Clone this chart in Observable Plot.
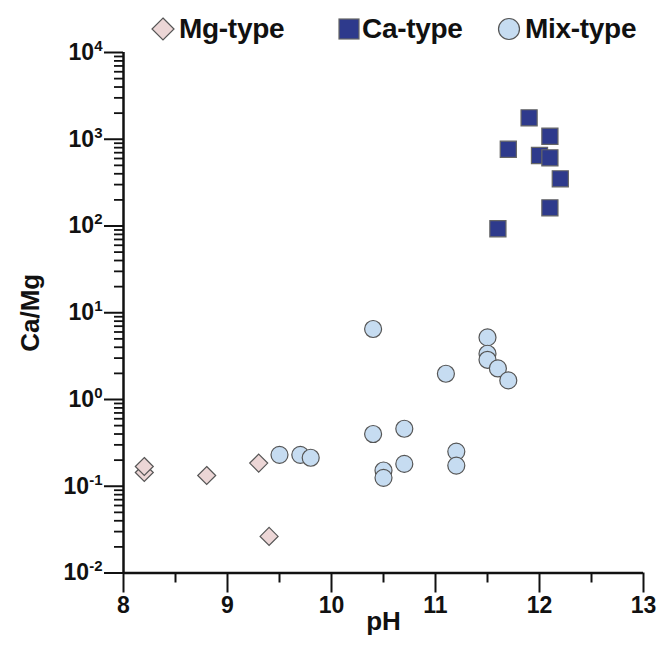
<!DOCTYPE html>
<html><head><meta charset="utf-8">
<script src="https://cdn.jsdelivr.net/npm/d3@7"></script>
<script src="https://cdn.jsdelivr.net/npm/@observablehq/plot@0.6"></script>
<style>
body{margin:0;background:#fff;font-family:"Liberation Sans",Arial,sans-serif;}
#wrap{position:relative;width:658px;height:655px;}
#legend{position:absolute;left:0;top:0;width:658px;height:50px;z-index:2;}
#chart{position:absolute;left:0;top:0;}
.item{position:absolute;top:13px;height:32px;line-height:32px;font-weight:bold;font-size:28px;color:#111;white-space:nowrap;letter-spacing:-0.3px;}
</style></head>
<body><div id="wrap"><div id="chart"></div><div id="legend"></div></div>
<script>
// Data
const mgPH = [8.2, 8.2, 8.8, 9.3, 9.4];
const mgRatio = [0.144, 0.169, 0.133, 0.185, 0.0264];
const caPH = [11.6, 11.9, 12.1, 11.7, 12.0, 12.1, 12.2, 12.1];
const caRatio = [93, 1766, 1084, 767, 650, 611, 350, 162];
const mixPH = [10.4, 11.5, 11.5, 11.5, 11.6, 11.7, 11.1, 10.4, 10.7, 10.7, 10.5, 10.5, 11.2, 11.2, 9.5, 9.7, 9.8];
const mixRatio = [6.5, 5.2, 3.37, 2.87, 2.28, 1.66, 1.98, 0.40, 0.46, 0.181, 0.152, 0.125, 0.251, 0.173, 0.230, 0.230, 0.213];
const seriesNames = ["Mg-type", "Ca-type", "Mix-type"];
const xMajor = [8, 9, 10, 11, 12, 13];
const xMinor = [8.5, 9.5, 10.5, 11.5, 12.5];
const yMajor = [0.01, 0.1, 1, 10, 100, 1000, 10000];

const colMg = "#ecd6d6", colCa = "#2e3a8c", colMix = "#c6dcf1", colStroke = "#555";

const yMinor = [];
for (const m of yMajor.slice(0, -1)) for (let k = 2; k <= 9; k++) yMinor.push(m * k);

const toRows = (xs, ys) => xs.map((x, i) => ({pH: x, ratio: ys[i]}));
const mg = toRows(mgPH, mgRatio), ca = toRows(caPH, caRatio), mix = toRows(mixPH, mixRatio);

const font = "Liberation Sans, Arial, sans-serif";
const chart = Plot.plot({
  width: 658, height: 655,
  marginTop: 52, marginLeft: 123, marginRight: 15, marginBottom: 82.5,
  style: {fontFamily: font, fontWeight: "bold", fontSize: "23px", color: "#111", background: "#fff"},
  x: {domain: [8, 13]},
  y: {type: "log", domain: [0.01, 10000]},
  marks: [
    Plot.axisX({ticks: xMajor, tickSize: 20, strokeWidth: 2, tickPadding: 4, label: null, tickFormat: d => String(d)}),
    Plot.axisX({ticks: xMinor, tickSize: 10, strokeWidth: 2, tickFormat: () => "", label: null}),
    Plot.axisY({ticks: yMajor, tickSize: 19, strokeWidth: 2, tickPadding: 2, label: null,
      tickFormat: d => String(Math.round(Math.log10(d)))}),
    Plot.axisY({ticks: yMinor, tickSize: 9, strokeWidth: 1.8, tickFormat: () => "", label: null}),
    Plot.ruleX([8], {stroke: "#111", strokeWidth: 2.5}),
    Plot.ruleY([0.01], {stroke: "#111", strokeWidth: 2.5}),
    Plot.text(["pH"], {frameAnchor: "bottom", dy: 57, fontSize: 26, fontWeight: "bold", fill: "#111"}),
    Plot.text(["Ca/Mg"], {frameAnchor: "left", textAnchor: "middle", lineAnchor: "middle", dx: -93, rotate: -90, fontSize: 26, fontWeight: "bold", fill: "#111"}),
    Plot.dot(mg, {x: "pH", y: "ratio", symbol: "diamond2", r: 8.1, fill: colMg, stroke: colStroke, strokeWidth: 1.2}),
    Plot.dot(mix, {x: "pH", y: "ratio", symbol: "circle", r: 8.5, fill: colMix, stroke: colStroke, strokeWidth: 1.2}),
    Plot.dot(ca, {x: "pH", y: "ratio", symbol: "square", r: 9.1, fill: colCa, stroke: "#666", strokeWidth: 1.2})
  ]
});

// drop empty minor-tick labels, then superscript exponents on the decade labels
d3.select(chart).selectAll('g[aria-label="y-axis tick label"] text, g[aria-label="x-axis tick label"] text').each(function() {
  if (this.textContent === "") this.remove();
});
d3.select(chart).selectAll('g[aria-label="y-axis tick label"] text').each(function() {
  const e = this.textContent;
  const t = d3.select(this);
  t.text(null);
  t.append("tspan").text("10");
  t.append("tspan").attr("dy", "-0.6em").attr("font-size", "15px").text(e);
});
document.getElementById("chart").appendChild(chart);

// legend
const legend = document.getElementById("legend");
const items = [
  {name: seriesNames[0], cx: 163, tx: 179, sym: "diamond", fill: colMg},
  {name: seriesNames[1], cx: 349, tx: 362, sym: "square", fill: colCa},
  {name: seriesNames[2], cx: 509, tx: 525, sym: "circle", fill: colMix}
];
for (const it of items) {
  const s = document.createElementNS("http://www.w3.org/2000/svg", "svg");
  s.setAttribute("width", 26); s.setAttribute("height", 26);
  s.style.position = "absolute"; s.style.left = (it.cx - 13) + "px"; s.style.top = "16px";
  let shape;
  if (it.sym === "diamond") shape = `<path d="M13,2 L24,13 L13,24 L2,13Z" fill="${it.fill}" stroke="#555" stroke-width="1.2"/>`;
  else if (it.sym === "square") shape = `<rect x="3" y="3" width="20" height="20" fill="${it.fill}" stroke="#666" stroke-width="1.2"/>`;
  else shape = `<circle cx="13" cy="13" r="10.5" fill="${it.fill}" stroke="#555" stroke-width="1.2"/>`;
  s.innerHTML = shape;
  legend.appendChild(s);
  const d = document.createElement("div");
  d.className = "item"; d.style.left = it.tx + "px"; d.textContent = it.name;
  legend.appendChild(d);
}
</script></body></html>
